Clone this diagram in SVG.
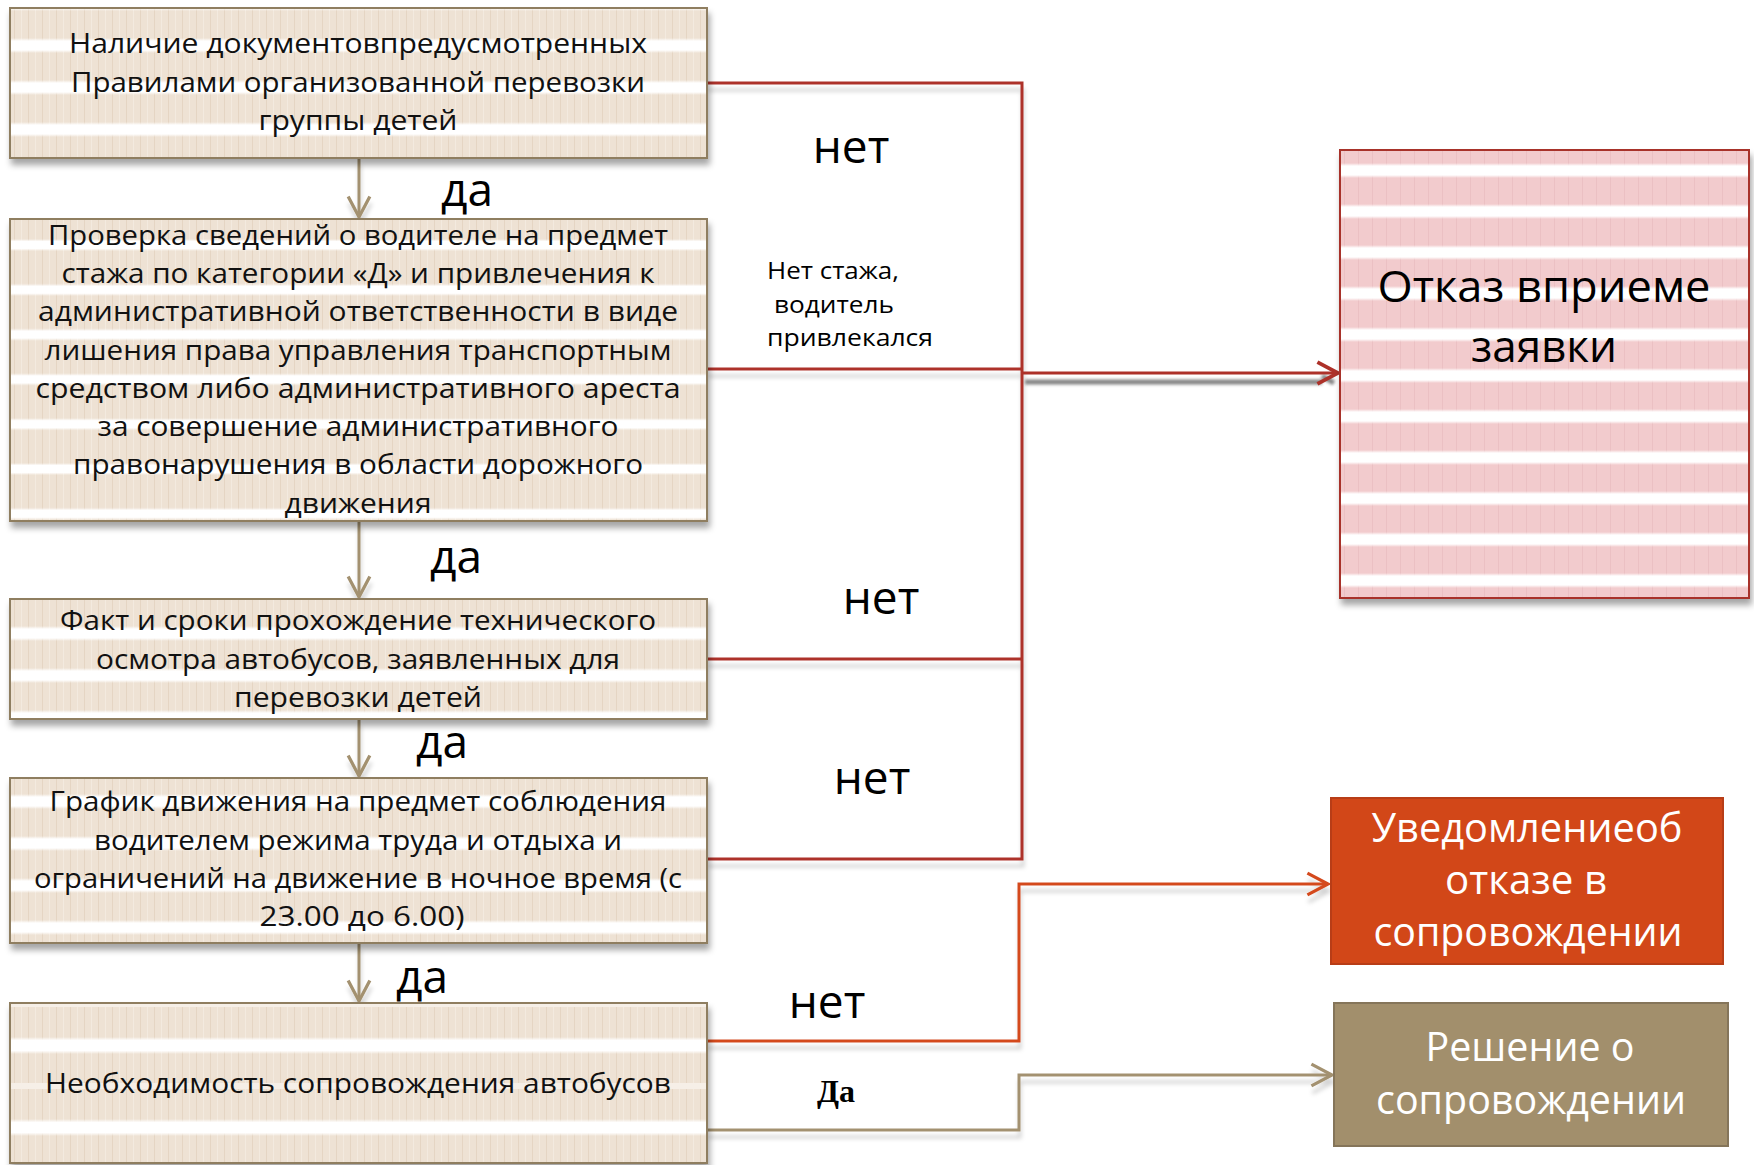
<svg xmlns="http://www.w3.org/2000/svg" width="1754" height="1165" viewBox="0 0 1754 1165">
<style>
.bt{font-family:"Open Sans","DejaVu Sans",sans-serif;font-size:28px;fill:#111;text-anchor:middle}
.lb{font-family:"Open Sans","DejaVu Sans",sans-serif;font-size:46px;fill:#000;text-anchor:middle}
.sm{font-family:"Open Sans","DejaVu Sans",sans-serif;font-size:24px;fill:#000}
.big{font-family:"Open Sans","DejaVu Sans",sans-serif;font-size:44px;fill:#000;text-anchor:middle}
.wt{font-family:"Open Sans","DejaVu Sans",sans-serif;font-size:40px;fill:#fff;text-anchor:middle}
.box{stroke:#8f7e60;stroke-width:2}
.red{fill:none;stroke:#ad3129;stroke-width:3}
.or{fill:none;stroke:#d44a1f;stroke-width:3}
.tan{fill:none;stroke:#a39170;stroke-width:3}
</style>
<defs>
<linearGradient id="gW" x1="0" y1="0" x2="0" y2="1">
<stop offset="0" stop-color="#fff" stop-opacity="0"/>
<stop offset="0.2" stop-color="#fff"/>
<stop offset="0.8" stop-color="#fff"/>
<stop offset="1" stop-color="#fff" stop-opacity="0"/>
</linearGradient>
<pattern id="pBeige" patternUnits="userSpaceOnUse" width="14" height="42" y="38">
<rect width="14" height="42" fill="#eee2d4"/>
<rect width="1" height="42" fill="#e5d5c3"/>
<rect x="7" width="1" height="42" fill="#f3eadf"/>
<rect y="0" width="14" height="15" fill="url(#gW)"/>
</pattern>
<pattern id="pBeige2" patternUnits="userSpaceOnUse" width="14" height="44.8" y="239">
<rect width="14" height="44.8" fill="#eee2d4"/>
<rect width="1" height="44.8" fill="#e5d5c3"/>
<rect x="7" width="1" height="44.8" fill="#f3eadf"/>
<rect y="0" width="14" height="12" fill="url(#gW)"/>
</pattern>
<pattern id="pBeige5" patternUnits="userSpaceOnUse" width="14" height="82" y="1037">
<rect width="14" height="82" fill="#eee2d4"/>
<rect width="1" height="82" fill="#e5d5c3"/>
<rect x="7" width="1" height="82" fill="#f3eadf"/>
<rect y="0" width="14" height="17" fill="url(#gW)"/>
<rect y="46" width="14" height="6" fill="#f6efe7"/>
</pattern>
<pattern id="pPink" patternUnits="userSpaceOnUse" width="14" height="41" y="163">
<rect width="14" height="41" fill="#f2cbcd"/>
<rect width="1" height="41" fill="#ebc0c3"/>
<rect y="0" width="14" height="15" fill="url(#gW)"/>
</pattern>
<filter id="sh" filterUnits="userSpaceOnUse" x="0" y="0" width="1754" height="1165">
<feDropShadow dx="2" dy="6" stdDeviation="3" flood-color="#000" flood-opacity="0.35"/>
</filter>
<filter id="lsh" filterUnits="userSpaceOnUse" x="0" y="0" width="1754" height="1165">
<feDropShadow dx="1" dy="7" stdDeviation="2" flood-color="#000" flood-opacity="0.18"/>
</filter>
<filter id="blr" filterUnits="userSpaceOnUse" x="0" y="0" width="1754" height="1165">
<feGaussianBlur stdDeviation="1.5"/>
</filter>
<marker id="aTan" markerUnits="userSpaceOnUse" markerWidth="26" markerHeight="26" refX="21" refY="11" orient="auto" viewBox="0 0 24 22">
<path d="M2,1 L21,11 L2,21" fill="none" stroke="#a39170" stroke-width="3"/>
</marker>
<marker id="aRed" markerUnits="userSpaceOnUse" markerWidth="26" markerHeight="26" refX="21" refY="11" orient="auto" viewBox="0 0 24 22">
<path d="M2,1 L21,11 L2,21" fill="none" stroke="#ad3129" stroke-width="3.5"/>
</marker>
<marker id="aOr" markerUnits="userSpaceOnUse" markerWidth="26" markerHeight="26" refX="21" refY="11" orient="auto" viewBox="0 0 24 22">
<path d="M2,1 L21,11 L2,21" fill="none" stroke="#d44a1f" stroke-width="3"/>
</marker>
</defs>
<rect width="1754" height="1165" fill="#fff"/>

<g id="connectors">
<g filter="url(#lsh)">
<path class="red" d="M707,83 H1022 V859 H707"/>
<path class="red" d="M707,369 H1022"/>
<path class="red" d="M707,659 H1022"/>
<path class="or" d="M707,1041 H1019 V884 H1328" marker-end="url(#aOr)"/>
<path class="tan" d="M707,1130 H1019 V1075 H1332" marker-end="url(#aTan)"/>
<path class="tan" d="M359,158 V217" marker-end="url(#aTan)"/>
<path class="tan" d="M359,521 V597" marker-end="url(#aTan)"/>
<path class="tan" d="M359,719 V776" marker-end="url(#aTan)"/>
<path class="tan" d="M359,943 V1001" marker-end="url(#aTan)"/>
</g>
<path d="M1025,382 H1322 M1322,376 L1334,383" stroke="#333" stroke-width="5" opacity="0.6" fill="none" filter="url(#blr)"/>
<path class="red" d="M1022,373 H1338" stroke-width="4" marker-end="url(#aRed)"/>
</g>

<g id="n1" filter="url(#sh)">
<rect class="box" x="10" y="8" width="697" height="150" fill="url(#pBeige)"/>
</g>
<g id="n1t">
<text class="bt" x="358" y="53" textLength="578" lengthAdjust="spacingAndGlyphs">Наличие документовпредусмотренных</text>
<text class="bt" x="358" y="92" textLength="574" lengthAdjust="spacingAndGlyphs">Правилами организованной перевозки</text>
<text class="bt" x="358" y="130" textLength="199" lengthAdjust="spacingAndGlyphs">группы детей</text>
</g>

<g id="n2" filter="url(#sh)">
<rect class="box" x="10" y="219" width="697" height="302" fill="url(#pBeige2)"/>
</g>
<g id="n2t">
<text class="bt" x="358" y="245" textLength="620" lengthAdjust="spacingAndGlyphs">Проверка сведений о водителе на предмет</text>
<text class="bt" x="358" y="283" textLength="593" lengthAdjust="spacingAndGlyphs">стажа по категории «Д» и привлечения к</text>
<text class="bt" x="358" y="321" textLength="640" lengthAdjust="spacingAndGlyphs">административной ответственности в виде</text>
<text class="bt" x="358" y="360" textLength="627" lengthAdjust="spacingAndGlyphs">лишения права управления транспортным</text>
<text class="bt" x="358" y="398" textLength="645" lengthAdjust="spacingAndGlyphs">средством либо административного ареста</text>
<text class="bt" x="358" y="436" textLength="521" lengthAdjust="spacingAndGlyphs">за совершение административного</text>
<text class="bt" x="358" y="474" textLength="570" lengthAdjust="spacingAndGlyphs">правонарушения в области дорожного</text>
<text class="bt" x="358" y="513" textLength="147" lengthAdjust="spacingAndGlyphs">движения</text>
</g>

<g id="n3" filter="url(#sh)">
<rect class="box" x="10" y="599" width="697" height="120" fill="url(#pBeige)"/>
</g>
<g id="n3t">
<text class="bt" x="358" y="630" textLength="596" lengthAdjust="spacingAndGlyphs">Факт и сроки прохождение технического</text>
<text class="bt" x="358" y="669" textLength="524" lengthAdjust="spacingAndGlyphs">осмотра автобусов, заявленных для</text>
<text class="bt" x="358" y="707" textLength="248" lengthAdjust="spacingAndGlyphs">перевозки  детей</text>
</g>

<g id="n4" filter="url(#sh)">
<rect class="box" x="10" y="778" width="697" height="165" fill="url(#pBeige)"/>
</g>
<g id="n4t">
<text class="bt" x="358" y="811" textLength="617" lengthAdjust="spacingAndGlyphs">График движения на предмет соблюдения</text>
<text class="bt" x="358" y="850" textLength="528" lengthAdjust="spacingAndGlyphs">водителем режима труда и отдыха и</text>
<text class="bt" x="358" y="888" textLength="648" lengthAdjust="spacingAndGlyphs">ограничений на движение в ночное время (с</text>
<text class="bt" x="362" y="926" textLength="205" lengthAdjust="spacingAndGlyphs">23.00 до 6.00)</text>
</g>

<g id="n5" filter="url(#sh)">
<rect class="box" x="10" y="1003" width="697" height="160" fill="url(#pBeige5)"/>
</g>
<g id="n5t">
<text class="bt" x="358" y="1093" textLength="626" lengthAdjust="spacingAndGlyphs">Необходимость сопровождения автобусов</text>
</g>

<g id="n6" filter="url(#sh)">
<rect x="1340" y="150" width="409" height="448" fill="url(#pPink)" stroke="#a8322c" stroke-width="2"/>
</g>
<g id="n6t">
<text class="big" x="1544" y="302" textLength="333" lengthAdjust="spacingAndGlyphs">Отказ вприеме</text>
<text class="big" x="1544" y="362" textLength="146" lengthAdjust="spacingAndGlyphs">заявки</text>
</g>

<g id="n7">
<rect x="1331" y="798" width="392" height="166" fill="#d24718" stroke="#b83d17" stroke-width="2"/>
<text class="wt" x="1527" y="842" textLength="311" lengthAdjust="spacingAndGlyphs">Уведомлениеоб</text>
<text class="wt" x="1526" y="894" textLength="162" lengthAdjust="spacingAndGlyphs">отказе в</text>
<text class="wt" x="1528" y="946" textLength="309" lengthAdjust="spacingAndGlyphs">сопровождении</text>
</g>

<g id="n8">
<rect x="1334" y="1003" width="394" height="143" fill="#a28f6c" stroke="#85755a" stroke-width="2"/>
<text class="wt" x="1530" y="1061" textLength="209" lengthAdjust="spacingAndGlyphs">Решение о</text>
<text class="wt" x="1531" y="1114" textLength="310" lengthAdjust="spacingAndGlyphs">сопровождении</text>
</g>

<g id="labels">
<text class="lb" x="851" y="163">нет</text>
<text class="lb" x="467" y="206">да</text>
<text class="lb" x="456" y="573">да</text>
<text class="lb" x="881" y="614">нет</text>
<text class="lb" x="442" y="758">да</text>
<text class="lb" x="872" y="794">нет</text>
<text class="lb" x="422" y="993">да</text>
<text class="lb" x="827" y="1018">нет</text>
<text x="836" y="1102" font-family="Liberation Serif,serif" font-weight="bold" font-size="32" text-anchor="middle">Да</text>
<text class="sm" x="767" y="279" textLength="132" lengthAdjust="spacingAndGlyphs">Нет стажа,</text>
<text class="sm" x="774" y="313" textLength="120" lengthAdjust="spacingAndGlyphs">водитель</text>
<text class="sm" x="767" y="346" textLength="166" lengthAdjust="spacingAndGlyphs">привлекался</text>
</g>
</svg>
